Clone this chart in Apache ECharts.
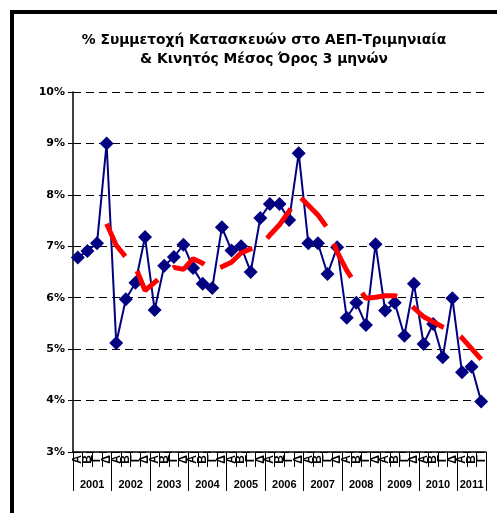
<!DOCTYPE html>
<html>
<head>
<meta charset="utf-8">
<script src="https://cdn.jsdelivr.net/npm/echarts@6/dist/echarts.min.js"></script>
<style>
  html, body { margin: 0; padding: 0; background: #fff; overflow: hidden; }
  #frame { position: absolute; left: 10px; top: 10px; width: 700px; height: 700px; border: 4px solid #000; box-sizing: border-box; }
  #chart { position: absolute; left: 0; top: 0; width: 497px; height: 513px; }
</style>
</head>
<body>
<div id="frame"></div>
<div id="chart"></div>
<script>
// quarters 2001 Q1 .. 2011 Q3
const years = ['2001', '2002', '2003', '2004', '2005', '2006', '2007', '2008', '2009', '2010', '2011'];
const quarterNames = ['Α', 'Β', 'Γ', 'Δ'];

// % share of construction in GDP, quarterly
const share = [
  6.78, 6.91, 7.06, 9.00,
  5.12, 5.97, 6.29, 7.18,
  5.76, 6.62, 6.79, 7.03,
  6.58, 6.27, 6.19, 7.37,
  6.92, 7.00, 6.50, 7.55,
  7.82, 7.82, 7.51, 8.81,
  7.06, 7.06, 6.46, 6.98,
  5.61, 5.90, 5.47, 7.04,
  5.75, 5.90, 5.26, 6.27,
  5.10, 5.49, 4.84, 5.99,
  4.55, 4.66, 3.98
];

// moving average (red dashed)
const movingAvg = [
  '-', '-', '-', 7.44,
  7.02, 6.79, 6.60, 6.14,
  6.30, 6.46, 6.59, 6.55,
  6.76, 6.67, 6.52, 6.60,
  6.69, 6.87, 6.95, 6.99,
  7.22, 7.42, 7.68, 7.99,
  7.80, 7.61, 7.35, 6.89,
  6.53, 6.24, 5.99, 6.01,
  6.04, 6.04, 5.99, 5.80,
  5.63, 5.53, 5.43, 5.36,
  5.22, 5.01, 4.80
];

const quarters = share.map((v, i) => quarterNames[i % 4]);

// year axis: half-quarter steps, labels at the middle of each year, ticks at year edges
const halfSteps = share.length * 2;
const yearAxis = [];
for (let k = 0; k <= halfSteps; k++) yearAxis.push('');
const yearEdges = [halfSteps];
years.forEach((y, i) => {
  const start = i * 4;
  const count = Math.min(4, share.length - start);
  yearAxis[2 * start + count] = y;
  yearEdges.push(2 * start);
});

let chartDom = document.getElementById('chart');
let myChart = echarts.init(chartDom);
let option;

option = {
  animation: false,
  title: {
    text: '% Συμμετοχή Κατασκευών στο ΑΕΠ-Τριμηνιαία\n& Κινητός Μέσος Όρος 3 μηνών',
    left: 259,
    top: 26,
    textAlign: 'center',
    textStyle: {
      fontFamily: 'DejaVu Sans',
      fontSize: 13.8,
      fontWeight: 'bold',
      color: '#000',
      lineHeight: 19
    }
  },
  grid: {
    left: 73,
    top: 92,
    right: 11,
    bottom: 61,
    outerBoundsMode: 'none'
  },
  xAxis: [
    {
      type: 'category',
      data: quarters,
      boundaryGap: true,
      axisLine: { show: true, lineStyle: { color: '#000', width: 1.5 } },
      axisTick: { show: true, interval: 0, length: 15, lineStyle: { color: '#000', width: 1 } },
      axisLabel: {
        interval: 0,
        rotate: 90,
        margin: 3,
        hideOverlap: false,
        fontFamily: 'Liberation Sans',
        fontSize: 12,
        fontWeight: 'bold',
        color: '#000'
      },
      splitLine: { show: false }
    },
    {
      type: 'category',
      data: yearAxis,
      position: 'bottom',
      offset: 0,
      boundaryGap: false,
      axisLine: { show: false },
      axisTick: {
        show: true,
        length: 39,
        interval: (index) => yearEdges.indexOf(index) >= 0,
        lineStyle: { color: '#000', width: 1 }
      },
      axisLabel: {
        interval: 0,
        margin: 27,
        fontFamily: 'Liberation Sans',
        fontSize: 11,
        fontWeight: 'bold',
        color: '#000'
      },
      splitLine: { show: false }
    }
  ],
  yAxis: {
    type: 'value',
    min: 3,
    max: 10,
    interval: 1,
    axisLine: { show: true, lineStyle: { color: '#000', width: 1.5 } },
    axisTick: { show: true, length: 5, lineStyle: { color: '#000', width: 1 } },
    axisLabel: {
      formatter: '{value}%',
      margin: 8,
      fontFamily: 'DejaVu Sans',
      fontSize: 11,
      fontWeight: 'bold',
      color: '#000'
    },
    splitLine: { show: true, lineStyle: { color: '#000', width: 1, type: [8, 5] } }
  },
  series: [
    {
      name: 'share',
      type: 'line',
      xAxisIndex: 0,
      data: share,
      symbol: 'diamond',
      symbolSize: 14,
      itemStyle: { color: '#000080' },
      lineStyle: { color: '#000080', width: 2 },
      z: 3
    },
    {
      name: 'moving average',
      type: 'line',
      xAxisIndex: 0,
      data: movingAvg,
      symbol: 'none',
      lineStyle: { color: '#ff0000', width: 5, type: [38, 19], cap: 'butt' },
      z: 4
    }
  ]
};

option && myChart.setOption(option);
</script>
</body>
</html>
